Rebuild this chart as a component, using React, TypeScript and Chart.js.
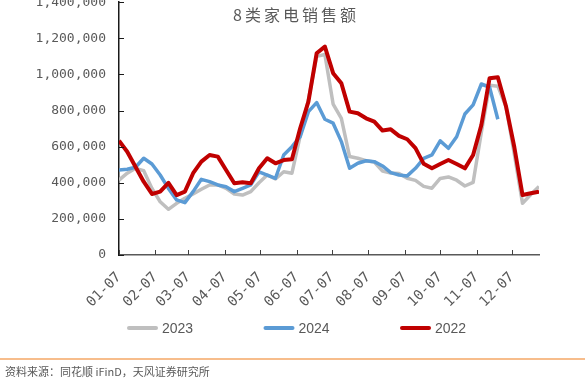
import React, { useEffect, useRef } from "react";
import { Chart, registerables } from "chart.js";

Chart.register(...registerables);

// ---------- data ----------
const WEEKS = [
  "01-07", "01-14", "01-21", "01-28", "02-04", "02-11", "02-18", "02-25",
  "03-04", "03-11", "03-18", "03-25", "04-01", "04-08", "04-15", "04-22",
  "04-29", "05-06", "05-13", "05-20", "05-27", "06-03", "06-10", "06-17",
  "06-24", "07-01", "07-08", "07-15", "07-22", "07-29", "08-05", "08-12",
  "08-19", "08-26", "09-02", "09-09", "09-16", "09-23", "09-30", "10-07",
  "10-14", "10-21", "10-28", "11-04", "11-11", "11-18", "11-25", "12-02",
  "12-09", "12-16", "12-23", "12-30",
];

const MONTH_TICKS = [
  "01-07", "02-07", "03-07", "04-07", "05-07", "06-07",
  "07-07", "08-07", "09-07", "10-07", "11-07", "12-07",
];

const SERIES_NAMES = ["2023", "2024", "2022"];

const SALES_2023 = [
  415000, 453000, 480000, 467000, 369000, 295000, 253000, 286000,
  314000, 338000, 364000, 388000, 388000, 369000, 338000, 332000,
  351000, 400000, 443000, 421000, 461000, 453000, 660000, 860000,
  1100000, 1110000, 836000, 757000, 545000, 536000, 522000, 515000,
  465000, 454000, 451000, 425000, 413000, 380000, 370000, 424000,
  432000, 414000, 382000, 402000, 680000, 940000, 935000, 820000,
  560000, 286000, 335000, 380000,
];

const SALES_2024 = [
  471000, 475000, 486000, 536000, 504000, 443000, 369000, 305000,
  290000, 351000, 419000, 406000, 388000, 378000, 351000, 369000,
  388000, 461000, 443000, 425000, 554000, 600000, 655000, 794000,
  844000, 752000, 730000, 628000, 480000, 508000, 522000, 517000,
  493000, 456000, 443000, 438000, 480000, 535000, 554000, 632000,
  591000, 655000, 781000, 831000, 947000, 929000, 752000, null,
  null, null, null, null,
];

const SALES_2022 = [
  633000, 572000, 489000, 406000, 338000, 351000, 400000, 332000,
  351000, 453000, 517000, 554000, 545000, 471000, 397000, 403000,
  397000, 480000, 536000, 508000, 526000, 530000, 702000, 849000,
  1117000, 1154000, 1007000, 951000, 794000, 785000, 757000, 739000,
  689000, 696000, 660000, 641000, 592000, 505000, 480000, 504000,
  526000, 504000, 480000, 554000, 720000, 979000, 984000, 822000,
  598000, 332000, 342000, 351000,
];

const Y_MIN = 0;
const Y_MAX = 1400000;
const Y_STEP = 200000;

const TITLE = "8类家电销售额";
const SOURCE = "资料来源：同花顺 iFinD，天风证券研究所";

// ---------- helpers ----------
const MONTH_START = [0, 31, 59, 90, 120, 151, 181, 212, 243, 273, 304, 334];
const dayOffset = (s: string) => {
  const [m, d] = s.split("-").map(Number);
  return MONTH_START[m - 1] + d - MONTH_START[0] - 7;
};

const COLORS = ["#BFBFBF", "#5B9BD5", "#C00000"];
const WIDTHS = [3.5, 3.5, 4];
const ORDERS = [2, 1, 0];

const W = 585;
const H = 399;
const OFF = 10; // canvas is shifted 10px above the page top

const decorPlugin = {
  id: "decor",
  afterDraw(chart: any) {
    const ctx = chart.ctx as CanvasRenderingContext2D;
    const xs = chart.scales.x;
    const ys = chart.scales.y;
    ctx.save();

    // inner tick marks
    ctx.lineWidth = 1;
    ctx.strokeStyle = "#404040";
    xs.ticks.forEach((t: any) => {
      const px = Math.round(xs.getPixelForValue(t.value)) + 0.5;
      ctx.beginPath();
      ctx.moveTo(px, ys.bottom);
      ctx.lineTo(px, ys.bottom - 5);
      ctx.stroke();
    });
    ctx.strokeStyle = "#1a1a1a";
    ys.ticks.forEach((t: any) => {
      const py = Math.round(ys.getPixelForValue(t.value)) + 0.5;
      ctx.beginPath();
      ctx.moveTo(xs.left, py);
      ctx.lineTo(xs.left + 5, py);
      ctx.stroke();
    });

    // title
    ctx.fillStyle = "#595959";
    ctx.font = '16px "Noto Sans CJK SC"';
    ctx.textAlign = "center";
    ctx.textBaseline = "middle";
    try { (ctx as any).letterSpacing = "3px"; } catch (e) {}
    ctx.fillText(TITLE, 296, 15 + OFF);
    try { (ctx as any).letterSpacing = "0px"; } catch (e) {}

    // legend
    const legendY = 328 + OFF;
    const startX = 129;
    const step = 136.5;
    ctx.font = '14px "Liberation Sans"';
    ctx.textAlign = "left";
    chart.data.datasets.forEach((ds: any, i: number) => {
      const lx = startX + i * step;
      ctx.beginPath();
      ctx.lineCap = "round";
      ctx.lineWidth = 4;
      ctx.strokeStyle = ds.borderColor;
      ctx.moveTo(lx, legendY);
      ctx.lineTo(lx + 27, legendY);
      ctx.stroke();
      ctx.fillStyle = "#595959";
      ctx.fillText(ds.label, lx + 33, legendY + 1);
    });

    // footer
    ctx.beginPath();
    ctx.lineCap = "butt";
    ctx.lineWidth = 1.5;
    ctx.strokeStyle = "#F4A766";
    ctx.moveTo(0, 359 + OFF);
    ctx.lineTo(W, 359 + OFF);
    ctx.stroke();
    ctx.fillStyle = "#595959";
    ctx.font = '11px "Noto Sans CJK SC"';
    ctx.textAlign = "left";
    ctx.fillText(SOURCE, 5, 372 + OFF);

    ctx.restore();
  },
};

export default function App() {
  const ref = useRef<HTMLCanvasElement | null>(null);

  useEffect(() => {
    if (!ref.current) return;
    const xs = WEEKS.map(dayOffset);
    const series = [SALES_2023, SALES_2024, SALES_2022];
    const chart = new Chart(ref.current, {
      type: "line",
      data: {
        datasets: series.map((vals, i) => ({
          label: SERIES_NAMES[i],
          data: vals.map((v, j) => ({ x: xs[j], y: v })),
          borderColor: COLORS[i],
          backgroundColor: COLORS[i],
          borderWidth: WIDTHS[i],
          order: ORDERS[i],
          pointRadius: 0,
          tension: 0,
          fill: false,
          spanGaps: false,
          borderJoinStyle: "round",
        })),
      },
      options: {
        animation: false,
        responsive: false,
        devicePixelRatio: 1,
        events: [],
        layout: { padding: { top: 12.2, right: 46, left: 0, bottom: 0 } },
        plugins: {
          legend: { display: false },
          title: { display: false },
          tooltip: { enabled: false },
        },
        scales: {
          x: {
            type: "linear",
            min: dayOffset(WEEKS[0]),
            max: dayOffset(WEEKS[WEEKS.length - 1]),
            afterBuildTicks: (s: any) => {
              s.ticks = MONTH_TICKS.map((t) => ({ value: dayOffset(t) }));
            },
            afterFit: (s: any) => {
              s.height = H - 265;
            },
            ticks: {
              autoSkip: false,
              minRotation: 45,
              maxRotation: 45,
              padding: 14,
              color: "#595959",
              font: { family: '"DejaVu Sans Mono"', size: 14 },
              callback: (_v: any, idx: number) => MONTH_TICKS[idx],
            },
            grid: { display: false, drawTicks: false },
            border: { display: true, color: "#595959", width: 1.5 },
          },
          y: {
            min: Y_MIN,
            max: Y_MAX,
            afterFit: (s: any) => {
              s.width = 119;
              s.paddingTop = 0;
              s.paddingBottom = 0;
            },
            ticks: {
              stepSize: Y_STEP,
              padding: 13,
              color: "#595959",
              font: { family: '"DejaVu Sans Mono"', size: 13 },
              callback: (v: any) => Number(v).toLocaleString("en-US"),
            },
            grid: { display: false, drawTicks: false },
            border: { display: true, color: "#1a1a1a", width: 1.5 },
          },
        },
      },
      plugins: [decorPlugin],
    } as any);
    return () => chart.destroy();
  }, []);

  return (
    <canvas
      ref={ref}
      width={W}
      height={H}
      style={{
        position: "absolute",
        left: 0,
        top: -OFF,
        width: W,
        height: H,
        display: "block",
        background: "#ffffff",
      }}
    />
  );
}
